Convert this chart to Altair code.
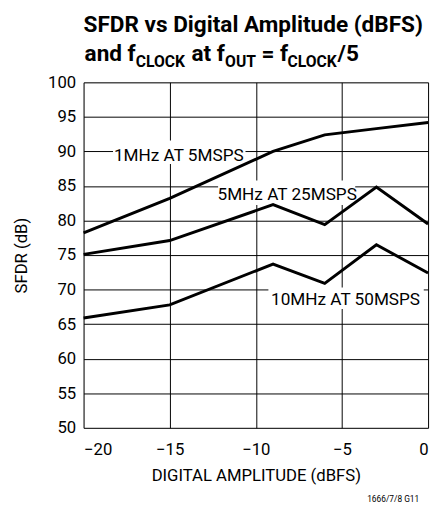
import altair as alt
import pandas as pd

# ---- data ----
x_vals = [-20, -15, -9, -6, -3, 0]
sfdr_1mhz = [78.2, 83.2, 90.0, 92.4, 93.3, 94.2]
sfdr_5mhz = [75.1, 77.1, 82.3, 79.4, 84.85, 79.5]
sfdr_10mhz = [65.9, 67.8, 73.7, 70.9, 76.5, 72.4]
series_names = ["1MHz AT 5MSPS", "5MHz AT 25MSPS", "10MHz AT 50MSPS"]

# curve labels (data units) and their white boxes
label_x = [-14.47, -8.18, -4.79]
label_y = [88.64, 82.91, 67.76]
box_x1 = [-18.29, -12.19, -9.27]
box_x2 = [-10.6, -4.23, -0.25]
box_y1 = [88.2, 82.24, 67.2]
box_y2 = [91.6, 85.8, 70.3]

x_ticks = [-20, -15, -10, -5, 0]
y_ticks = [50, 55, 60, 65, 70, 75, 80, 85, 90, 95, 100]

title_line1 = "SFDR vs Digital Amplitude (dBFS)"
# second title line: (text, is_subscript, approx advance width in em for Roboto Bold)
title_pieces = ["and f", "CLOCK", "at f", "OUT", "= f", "CLOCK", "/5"]
title_piece_sub = [False, True, False, True, False, True, False]
title_piece_em = [2.265, 3.19, 1.49, 1.96, 1.15, 3.19, 0.97]
title_gap_after = [False, True, False, True, False, False, False]
footnote = "1666/7/8 G11"

FONT = "Roboto"
W, H = 351, 352
OX, OY = 85, 79  # plot origin in page px (for annotation text offsets)
MAIN_FS, SUB_FS = 23, 16

rows = []
for name, vals in zip(series_names, [sfdr_1mhz, sfdr_5mhz, sfdr_10mhz]):
    for xv, yv in zip(x_vals, vals):
        rows.append({"series": name, "amp": xv, "sfdr": yv})
df = pd.DataFrame(rows)

lab = pd.DataFrame({"text": series_names, "lx": label_x, "ly": label_y,
                    "x1": box_x1, "x2": box_x2, "y1": box_y1, "y2": box_y2})

xs = alt.Scale(domain=[-20, 0], nice=False, zero=False)
ys = alt.Scale(domain=[50, 100], nice=False, zero=False)

x_axis = alt.Axis(values=x_ticks, title="DIGITAL AMPLITUDE (dBFS)", grid=True,
                  gridColor="black", gridWidth=1, gridOpacity=1, domain=False,
                  ticks=False, labelPadding=14, labelFontSize=17, labelFont=FONT,
                  labelColor="black", labelOverlap=False, titleFont=FONT,
                  titleFontSize=17, titleFontWeight="normal", titleColor="black",
                  titleY=54, titleBaseline="alphabetic")
y_axis = alt.Axis(values=y_ticks, title="SFDR (dB)", grid=True,
                  gridColor="black", gridWidth=1, gridOpacity=1, domain=False,
                  ticks=False, labelPadding=8, labelFontSize=17, labelFont=FONT,
                  labelColor="black", labelBaseline="middle", labelOverlap=False,
                  titleFont=FONT, titleFontSize=17, titleFontWeight="normal",
                  titleColor="black", titleX=-58, titleY=H / 2, titleAngle=270,
                  titleAlign="center", titleBaseline="alphabetic")

boxes = alt.Chart(lab).mark_rect(color="white", opacity=1).encode(
    x=alt.X("x1:Q", scale=xs, axis=x_axis), x2="x2:Q",
    y=alt.Y("y1:Q", scale=ys, axis=y_axis), y2="y2:Q",
)

lines = alt.Chart(df).mark_line(color="black", strokeWidth=3).encode(
    x=alt.X("amp:Q", scale=xs, axis=x_axis),
    y=alt.Y("sfdr:Q", scale=ys, axis=y_axis),
    detail="series:N",
)

labels = alt.Chart(lab).mark_text(font=FONT, fontSize=17.5, color="black",
                                  align="center", baseline="alphabetic").encode(
    x=alt.X("lx:Q", scale=xs, axis=x_axis), y=alt.Y("ly:Q", scale=ys, axis=y_axis),
    text="text:N")

layers = [boxes, lines, labels]

# title line 1
layers.append(alt.Chart(pd.DataFrame({"t": [title_line1]})).mark_text(
    font=FONT, fontSize=23, fontWeight="bold", color="black", align="left",
    baseline="alphabetic").encode(text="t:N", x=alt.value(85 - OX), y=alt.value(27.5 - OY)))

# title line 2 with subscripts, pieces chained left to right
cur = 86.0
for txt, sub, em, gap in zip(title_pieces, title_piece_sub, title_piece_em, title_gap_after):
    fs = SUB_FS if sub else MAIN_FS
    layers.append(alt.Chart(pd.DataFrame({"t": [txt]})).mark_text(
        font=FONT, fontSize=fs, fontWeight="bold", color="black",
        align="left", baseline="alphabetic").encode(
        text="t:N", x=alt.value(cur - OX), y=alt.value((63.5 if sub else 57.7) - OY)))
    cur += em * fs + (0.25 * MAIN_FS if gap else 0)

layers.append(alt.Chart(pd.DataFrame({"t": [footnote]})).mark_text(
    font=FONT, fontSize=8.5, color="black", align="right",
    baseline="alphabetic").encode(text="t:N", x=alt.value(427 - OX), y=alt.value(507 - OY)))

chart = alt.layer(*layers).properties(
    width=W, height=H,
    padding={"left": 77, "top": 71, "right": 4, "bottom": 80},
    autosize="none",
).configure_view(stroke="black", strokeWidth=2).configure(background="white")

chart.save("out.html", embed_options={"renderer": "svg", "actions": False})
